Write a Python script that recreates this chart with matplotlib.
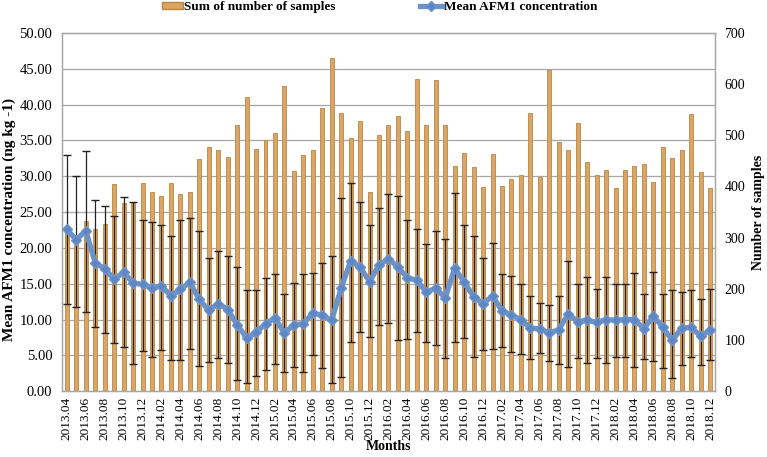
import matplotlib
matplotlib.use("Agg")
import matplotlib.pyplot as plt
from matplotlib.lines import Line2D
from matplotlib.patches import Patch
import numpy as np

# ---------------------------------------------------------------------------
# Data
# ---------------------------------------------------------------------------
months = [f"{y}.{m:02d}" for y in range(2013, 2019) for m in range(1, 13)][3:]

samples = [310, 300, 333, 317, 326, 405, 367, 370, 407, 389, 381, 407,
           385, 389, 454, 477, 471, 458, 520, 575, 473, 491, 505, 596,
           430, 461, 471, 553, 651, 543, 495, 528, 389, 500, 520, 537,
           509, 610, 521, 608, 521, 440, 465, 438, 399, 464, 401, 414,
           422, 543, 419, 628, 486, 472, 523, 448, 422, 432, 397, 432,
           440, 444, 409, 478, 455, 471, 542, 429, 397]

afm1_mean = [22.6, 21.1, 22.4, 17.9, 17.1, 15.6, 16.6, 15.1, 14.9, 14.4, 14.7, 13.3,
             14.2, 15.2, 12.8, 11.3, 12.2, 11.4, 9.3, 7.4, 8.2, 9.4, 10.2, 8.1,
             9.3, 9.4, 10.9, 10.6, 9.9, 14.4, 18.2, 17.3, 15.3, 17.6, 18.5, 17.3,
             15.8, 15.5, 13.8, 14.4, 13.0, 17.2, 15.2, 13.2, 12.2, 13.3, 11.2, 10.6,
             10.0, 8.8, 8.7, 8.1, 8.6, 10.8, 9.7, 9.9, 9.6, 10.0, 9.9, 10.0,
             10.0, 8.7, 10.5, 8.9, 7.1, 8.8, 8.9, 7.7, 8.5]

err_high = [32.9, 30.0, 33.5, 26.7, 25.8, 24.5, 27.1, 26.4, 23.9, 23.6, 23.2, 21.7,
            23.9, 24.2, 22.3, 18.6, 19.6, 18.9, 17.3, 14.1, 14.1, 15.8, 16.4, 13.6,
            15.1, 16.4, 16.5, 17.9, 18.8, 26.9, 29.1, 26.4, 23.2, 25.6, 27.5, 27.3,
            23.9, 22.7, 20.6, 22.3, 21.2, 27.6, 23.2, 21.6, 18.6, 20.7, 16.4, 16.1,
            15.0, 13.3, 12.3, 12.0, 13.3, 18.2, 14.9, 15.9, 14.3, 15.9, 14.9, 15.0,
            16.5, 13.5, 16.6, 13.5, 14.1, 13.9, 14.1, 12.8, 14.2]

err_low = [12.1, 11.8, 11.1, 9.0, 8.1, 6.7, 6.1, 3.8, 5.6, 4.8, 5.8, 4.4,
           4.4, 5.9, 3.5, 4.1, 4.7, 4.0, 1.5, 1.2, 2.1, 3.0, 3.8, 2.7,
           3.4, 2.7, 5.0, 3.3, 1.2, 2.0, 6.8, 8.2, 7.6, 9.3, 9.5, 7.2,
           7.3, 8.2, 6.8, 6.5, 4.7, 6.8, 7.4, 4.8, 5.7, 5.9, 6.1, 5.4,
           5.2, 4.5, 5.3, 4.2, 3.8, 3.4, 4.7, 4.0, 4.7, 4.0, 4.8, 4.8,
           3.4, 4.5, 4.2, 3.3, 1.9, 3.6, 4.8, 3.7, 4.3]

# ---------------------------------------------------------------------------
# Style
# ---------------------------------------------------------------------------
plt.rcParams["font.family"] = ["Liberation Serif", "DejaVu Serif"]
BAR_FACE = "#DBA566"
BAR_EDGE = "#BA8642"
LINE_COL = "#6B93C9"
MARK_COL = "#5E86C2"
GRID_COL = "#A6A6A6"

x = np.arange(len(months))
mean = np.array(afm1_mean)
yerr = np.vstack([mean - np.array(err_low), np.array(err_high) - mean])

fig = plt.figure(figsize=(7.67, 4.57), dpi=100)
ax = fig.add_axes([0.081, 0.144, 0.851, 0.784])   # left axis: AFM1 line
ax2 = ax.twinx()                                   # right axis: samples

# bars (right axis) drawn underneath
ax2.bar(x, samples, width=0.42, color=BAR_FACE, edgecolor=BAR_EDGE,
        linewidth=0.6, zorder=2)
ax2.set_ylim(0, 700)
ax2.set_yticks(range(0, 701, 100))
ax2.tick_params(axis="y", length=0, labelsize=10, pad=7)

# line with error bars (left axis) on top
ax.set_zorder(ax2.get_zorder() + 1)
ax.patch.set_visible(False)
ax.errorbar(x, mean, yerr=yerr, fmt="none", ecolor="#222222",
            elinewidth=0.9, capsize=2.6, capthick=1.0, zorder=3)
ax.plot(x, mean, color=LINE_COL, linewidth=3.8, marker="D",
        markersize=5, markerfacecolor=MARK_COL, markeredgecolor=LINE_COL,
        zorder=4)
ax.set_ylim(0, 50)
ax.set_yticks(np.arange(0, 50.1, 5))
ax.set_yticklabels([f"{v:.2f}" for v in np.arange(0, 50.1, 5)])
ax.tick_params(axis="y", length=0, labelsize=10.5, pad=7)

# horizontal gridlines follow the left axis
for v in np.arange(5, 50.1, 5):
    ax2.axhline(v * 14, color=GRID_COL, linewidth=0.9, zorder=1)

ax.set_xlim(-0.5, len(months) - 0.5)
ax.set_xticks(x[::2])
ax.set_xticklabels(months[::2], rotation=90, fontsize=9.5)
ax.tick_params(axis="x", length=0, pad=4)
ax.set_xlabel("Months", fontsize=10, fontweight="bold", labelpad=0)

for a in (ax, ax2):
    for s in a.spines.values():
        s.set_color(GRID_COL)
        s.set_linewidth(0.9)

# axis titles placed in figure coordinates
fig.text(0.012, 0.519, "Mean AFM1 concentration (ng kg -1)", rotation=90,
         ha="center", va="center", fontsize=11, fontweight="bold")
fig.text(0.989, 0.536, "Number of samples", rotation=90,
         ha="center", va="center", fontsize=10, fontweight="bold")

# two-part legend across the top
leg_font = {"weight": "bold", "size": 9.5}
fig.legend([Patch(facecolor=BAR_FACE, edgecolor=BAR_EDGE)],
           ["Sum of number of samples"], loc="center left",
           bbox_to_anchor=(0.211, 0.984), frameon=False, prop=leg_font,
           handlelength=1.6, handleheight=0.5, handletextpad=0.1,
           borderpad=0, borderaxespad=0)
fig.legend([Line2D([0], [0], color=LINE_COL, linewidth=3.8, marker="D",
                   markersize=5, markerfacecolor=MARK_COL,
                   markeredgecolor=LINE_COL)],
           ["Mean AFM1 concentration"], loc="center left",
           bbox_to_anchor=(0.547, 0.984), frameon=False, prop=leg_font,
           handlelength=1.75, handletextpad=0.1, borderpad=0, borderaxespad=0)

fig.savefig("out.png", dpi=100)
